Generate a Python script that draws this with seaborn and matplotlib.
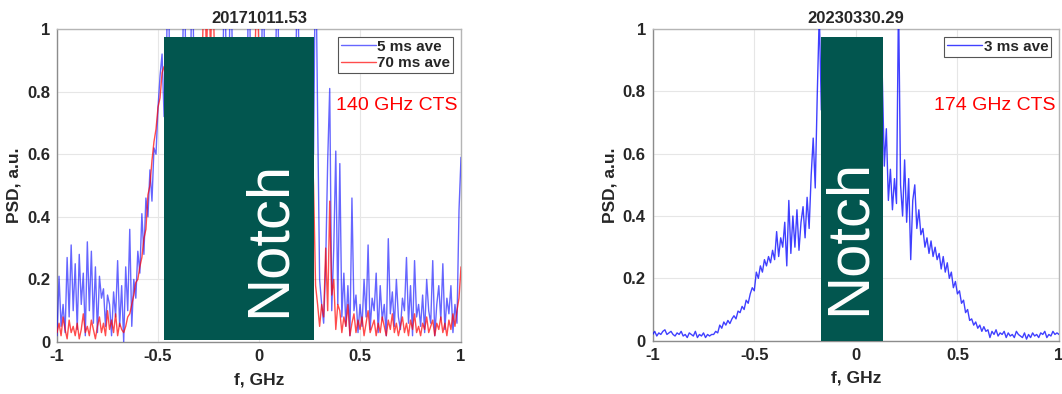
import numpy as np
import pandas as pd
import matplotlib
matplotlib.use("Agg")
import matplotlib.pyplot as plt
from matplotlib.patches import Rectangle
import seaborn as sns

# ---- data (frequency step 0.01 GHz, -1 .. 1) ----
freq = np.round(np.linspace(-1.0, 1.0, 201), 2)

# 20171011.53, 140 GHz CTS, 5 ms average
psd_2017_5ms = [
    0.02, 0.21, 0.05, 0.12, 0.03, 0.27, 0.08, 0.31, 0.10, 0.25,  # -1.00
    0.04, 0.28, 0.12, 0.22, 0.02, 0.32, 0.10, 0.29, 0.06, 0.24,  # -0.90
    0.03, 0.21, 0.14, 0.17, 0.05, 0.15, 0.12, 0.02, 0.16, 0.08,  # -0.80
    0.26, 0.05, 0.18, 0.00, 0.24, 0.10, 0.36, 0.05, 0.20, 0.14,  # -0.70
    0.29, 0.22, 0.41, 0.28, 0.46, 0.40, 0.55, 0.45, 0.62, 0.60,  # -0.60
    0.75, 0.85, 0.92, 0.72, 0.80, 1.30, 0.70, 0.75, 0.80, 0.70,  # -0.50
    0.75, 0.70, 0.80, 1.30, 0.70, 0.75, 0.80, 1.30, 0.70, 0.75,  # -0.40
    0.80, 0.70, 0.75, 0.80, 0.70, 0.75, 0.80, 0.70, 0.75, 0.80,  # -0.30
    0.70, 0.75, 0.80, 1.30, 0.70, 0.75, 1.30, 0.80, 0.70, 0.75,  # -0.20
    0.80, 0.70, 0.75, 0.80, 0.70, 1.30, 0.75, 0.80, 0.70, 0.75,  # -0.10
    0.80, 0.70, 1.30, 0.75, 0.80, 0.70, 0.75, 0.80, 0.70, 1.30,  # 0.00
    0.75, 0.80, 0.70, 0.75, 0.80, 0.70, 0.75, 0.80, 0.70, 1.30,  # 0.10
    0.75, 0.80, 0.70, 0.75, 0.80, 0.70, 0.75, 0.60, 1.30, 0.73,  # 0.20
    0.20, 0.12, 0.06, 0.25, 0.58, 0.81, 0.10, 0.30, 0.61, 0.12,  # 0.30
    0.57, 0.08, 0.22, 0.05, 0.18, 0.02, 0.46, 0.10, 0.15, 0.03,  # 0.40
    0.12, 0.05, 0.20, 0.08, 0.31, 0.04, 0.14, 0.10, 0.22, 0.03,  # 0.50
    0.18, 0.07, 0.12, 0.02, 0.33, 0.09, 0.16, 0.05, 0.20, 0.08,  # 0.60
    0.04, 0.14, 0.10, 0.27, 0.06, 0.18, 0.02, 0.26, 0.08, 0.12,  # 0.70
    0.05, 0.15, 0.03, 0.20, 0.10, 0.06, 0.26, 0.02, 0.12, 0.18,  # 0.80
    0.07, 0.25, 0.04, 0.14, 0.09, 0.18, 0.03, 0.12, 0.06, 0.42,  # 0.90
    0.59,
]

# 20171011.53, 140 GHz CTS, 70 ms average
psd_2017_70ms = [
    0.03, 0.06, 0.02, 0.08, 0.04, 0.01, 0.07, 0.03, 0.05, 0.02,  # -1.00
    0.06, 0.01, 0.04, 0.09, 0.03, 0.05, 0.02, 0.07, 0.04, 0.01,  # -0.90
    0.05, 0.08, 0.03, 0.06, 0.02, 0.10, 0.04, 0.07, 0.03, 0.09,  # -0.80
    0.02, 0.06, 0.04, 0.03, 0.05, 0.08, 0.09, 0.12, 0.15, 0.19,  # -0.70
    0.20, 0.24, 0.27, 0.33, 0.36, 0.47, 0.50, 0.58, 0.64, 0.68,  # -0.60
    0.75, 0.78, 0.86, 0.88, 0.85, 0.90, 0.88, 0.92, 0.90, 0.93,  # -0.50
    0.90, 0.92, 0.94, 0.90, 0.93, 0.91, 0.94, 0.92, 0.90, 0.93,  # -0.40
    0.90, 0.92, 0.94, 1.20, 0.90, 1.20, 0.92, 1.20, 0.90, 0.93,  # -0.30
    0.90, 0.92, 0.94, 0.90, 0.93, 0.91, 0.94, 0.92, 0.90, 0.93,  # -0.20
    0.90, 0.92, 0.94, 0.90, 0.93, 0.91, 0.94, 0.92, 0.90, 1.20,  # -0.10
    0.90, 0.92, 0.94, 0.90, 0.93, 0.91, 0.94, 0.92, 0.90, 0.93,  # 0.00
    0.90, 0.92, 0.94, 0.90, 0.93, 0.91, 0.94, 0.92, 0.90, 0.93,  # 0.10
    0.90, 0.92, 0.94, 0.90, 0.93, 0.91, 0.70, 0.50, 0.18, 0.12,  # 0.20
    0.05, 0.12, 0.08, 0.30, 0.10, 0.45, 0.15, 0.20, 0.04, 0.12,  # 0.30
    0.10, 0.03, 0.08, 0.05, 0.12, 0.02, 0.06, 0.09, 0.03, 0.07,  # 0.40
    0.04, 0.08, 0.02, 0.06, 0.10, 0.03, 0.05, 0.07, 0.02, 0.06,  # 0.50
    0.03, 0.08, 0.05, 0.02, 0.07, 0.04, 0.09, 0.03, 0.06, 0.02,  # 0.60
    0.05, 0.08, 0.03, 0.06, 0.02, 0.07, 0.04, 0.09, 0.03, 0.05,  # 0.70
    0.02, 0.06, 0.04, 0.08, 0.03, 0.05, 0.07, 0.02, 0.06, 0.04,  # 0.80
    0.08, 0.03, 0.06, 0.02, 0.07, 0.04, 0.09, 0.05, 0.10, 0.14,  # 0.90
    0.24,
]

# 20230330.29, 174 GHz CTS, 3 ms average
psd_2023_3ms = [
    0.020, 0.030, 0.015, 0.025, 0.020, 0.030, 0.035, 0.020, 0.025, 0.030,  # -1.00
    0.020, 0.015, 0.025, 0.020, 0.030, 0.015, 0.020, 0.010, 0.025, 0.020,  # -0.90
    0.015, 0.030, 0.010, 0.020, 0.015, 0.025, 0.010, 0.020, 0.015, 0.020,  # -0.80
    0.020, 0.030, 0.025, 0.050, 0.040, 0.060, 0.050, 0.065, 0.055, 0.070,  # -0.70
    0.080, 0.070, 0.095, 0.090, 0.110, 0.100, 0.130, 0.120, 0.150, 0.170,  # -0.60
    0.160, 0.220, 0.200, 0.240, 0.220, 0.260, 0.240, 0.270, 0.250, 0.290,  # -0.50
    0.260, 0.350, 0.270, 0.330, 0.300, 0.380, 0.240, 0.450, 0.280, 0.400,  # -0.40
    0.300, 0.420, 0.290, 0.380, 0.430, 0.330, 0.460, 0.360, 0.530, 0.650,  # -0.30
    0.490, 0.790, 1.050, 0.740, 0.850, 0.850, 0.850, 0.850, 0.850, 0.850,  # -0.20
    0.850, 0.850, 0.850, 0.850, 0.850, 0.850, 0.850, 0.850, 0.850, 0.850,  # -0.10
    0.850, 0.850, 0.850, 0.850, 0.850, 0.850, 0.850, 0.850, 0.850, 0.850,  # 0.00
    0.850, 0.850, 0.850, 0.850, 0.560, 0.680, 0.450, 0.550, 0.420, 0.520,  # 0.10
    0.440, 1.100, 0.500, 0.400, 0.580, 0.380, 0.520, 0.260, 0.450, 0.500,  # 0.20
    0.360, 0.420, 0.340, 0.360, 0.300, 0.330, 0.280, 0.320, 0.270, 0.300,  # 0.30
    0.260, 0.280, 0.230, 0.270, 0.220, 0.250, 0.200, 0.220, 0.170, 0.190,  # 0.40
    0.150, 0.160, 0.120, 0.130, 0.090, 0.100, 0.065, 0.070, 0.050, 0.060,  # 0.50
    0.040, 0.050, 0.030, 0.045, 0.030, 0.035, 0.010, 0.030, 0.020, 0.035,  # 0.60
    0.015, 0.025, 0.020, 0.030, 0.010, 0.025, 0.015, 0.020, 0.010, 0.030,  # 0.70
    0.020, 0.015, 0.010, 0.025, 0.005, 0.020, 0.010, 0.025, 0.015, 0.020,  # 0.80
    0.010, 0.025, 0.020, 0.030, 0.010, 0.020, 0.015, 0.030, 0.020, 0.025,  # 0.90
    0.020,
]

# notch band (f range, PSD range) per panel
notch_2017 = (-0.47, 0.272, 0.005, 0.975)
notch_2023 = (-0.17, 0.135, 0.0, 0.975)

xticks = [-1, -0.5, 0, 0.5, 1]
yticks = [0, 0.2, 0.4, 0.6, 0.8, 1]

sns.set_theme(style="whitegrid")
plt.rcParams["font.family"] = ["Liberation Sans", "DejaVu Sans"]

NOTCH_COLOR = "#02564f"

fig = plt.figure(figsize=(10.62, 3.94), dpi=100)
ax1 = fig.add_axes([0.0537, 0.132, 0.3804, 0.7944])
ax2 = fig.add_axes([0.6146, 0.1353, 0.3826, 0.7911])


def style_axes(ax, title):
    ax.set_xlim(-1, 1)
    ax.set_ylim(0, 1)
    ax.set_xticks(xticks)
    ax.set_xticklabels([f"{v:g}" for v in xticks])
    ax.set_yticks(yticks)
    ax.set_yticklabels([f"{v:g}" for v in yticks])
    ax.tick_params(labelsize=12, direction="in", length=3, width=0.8,
                   color="#888888", pad=5)
    for lab in ax.get_xticklabels() + ax.get_yticklabels():
        lab.set_fontweight("bold")
    ax.grid(True, color="#e6e6e6", linewidth=0.8)
    ax.set_facecolor("white")
    for side, sp in ax.spines.items():
        sp.set_visible(True)
        sp.set_linewidth(1.0)
        sp.set_color("#8c8c8c" if side in ("left", "bottom") else "#b5b5b5")
    ax.set_xlabel("f, GHz", fontsize=12.5, fontweight="bold", labelpad=6)
    ax.set_ylabel("PSD, a.u.", fontsize=12.5, fontweight="bold", labelpad=4)
    ax.set_title(title, fontsize=12, fontweight="bold", pad=4)


def draw_notch(ax, band, text_x, text_y):
    f0, f1, p0, p1 = band
    ax.add_patch(Rectangle((f0, p0), f1 - f0, p1 - p0, facecolor=NOTCH_COLOR,
                           edgecolor="none", zorder=5))
    ax.text(text_x, text_y, "Notch", color="white", fontsize=43,
            rotation=90, rotation_mode="anchor", ha="left", va="baseline",
            zorder=6)


df1 = pd.DataFrame({"f": freq, "fast": psd_2017_5ms, "slow": psd_2017_70ms})
df2 = pd.DataFrame({"f": freq, "fast": psd_2023_3ms})

# left panel
sns.lineplot(data=df1, x="f", y="fast", ax=ax1, color="#0000ff", lw=1.0,
             alpha=0.6, label="5 ms ave", zorder=3)
sns.lineplot(data=df1, x="f", y="slow", ax=ax1, color="#ff0000", lw=1.0,
             alpha=0.7, label="70 ms ave", zorder=4)
style_axes(ax1, "20171011.53")
draw_notch(ax1, notch_2017, 0.128, 0.08)
ax1.text(0.985, 0.757, "140 GHz CTS", color="#ff0000", fontsize=14,
         ha="right", va="center", zorder=7)

# right panel
sns.lineplot(data=df2, x="f", y="fast", ax=ax2, color="#0000ff", lw=1.0,
             alpha=0.75, label="3 ms ave", zorder=3)
style_axes(ax2, "20230330.29")
draw_notch(ax2, notch_2023, 0.044, 0.082)
ax2.text(0.985, 0.756, "174 GHz CTS", color="#ff0000", fontsize=14,
         ha="right", va="center", zorder=7)

for ax in (ax1, ax2):
    leg = ax.legend(loc="upper right", prop={"weight": "bold", "size": 11},
                    frameon=True, fancybox=False, framealpha=1,
                    edgecolor="#555555", borderpad=0.2, handlelength=2.3,
                    handletextpad=0.1, labelspacing=0.15,
                    borderaxespad=0.5)
    leg.set_zorder(10)
    leg.get_frame().set_linewidth(0.8)

fig.savefig("out.png", dpi=100)
